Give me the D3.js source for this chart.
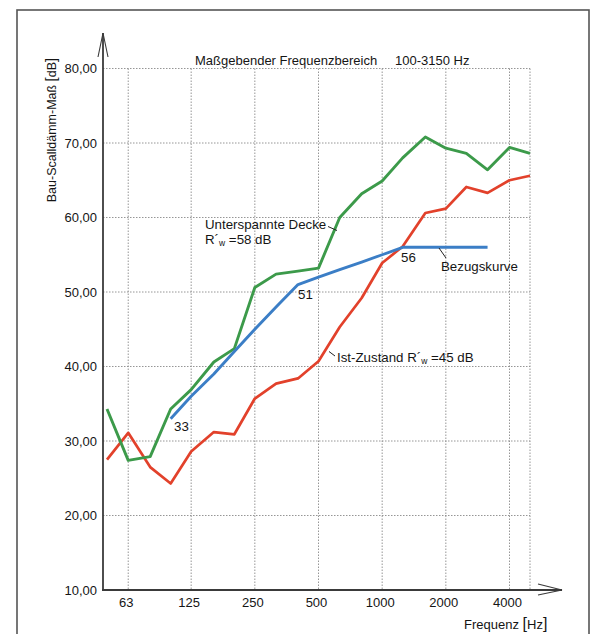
<!DOCTYPE html>
<html>
<head>
<meta charset="utf-8">
<script src="https://cdn.jsdelivr.net/npm/d3@7"></script>
<style>
  html, body { margin: 0; padding: 0; background: #fff; }
  svg { display: block; font-family: "Liberation Sans", Arial, sans-serif; }
</style>
</head>
<body>
<svg id="chart" width="592" height="634"></svg>
<script>
// ---- data ----
const freqs = [50, 63, 80, 100, 125, 160, 200, 250, 315, 400, 500, 630, 800, 1000, 1250, 1600, 2000, 2500, 3150, 4000, 5000];
const istZustand = [27.5, 31.1, 26.5, 24.3, 28.6, 31.2, 30.9, 35.7, 37.7, 38.4, 40.7, 45.3, 49.2, 53.9, 56.1, 60.6, 61.2, 64.1, 63.3, 65.0, 65.6];
const unterspannteDecke = [34.3, 27.4, 27.9, 34.3, 36.9, 40.6, 42.4, 50.6, 52.4, 52.8, 53.2, 60.0, 63.2, 64.9, 68.0, 70.8, 69.3, 68.6, 66.4, 69.4, 68.6];
const refFreqs = [100, 125, 160, 200, 250, 315, 400, 500, 630, 800, 1000, 1250, 1600, 2000, 2500, 3150];
const bezugskurve = [33, 36, 39, 42, 45, 48, 51, 52, 53, 54, 55, 56, 56, 56, 56, 56];
const xTickFreqs = [63, 125, 250, 500, 1000, 2000, 4000];
const xTickLabels = ["63", "125", "250", "500", "1000", "2000", "4000"];
const yTicks = [10, 20, 30, 40, 50, 60, 70, 80];
const yTickLabels = ["10,00", "20,00", "30,00", "40,00", "50,00", "60,00", "70,00", "80,00"];

// ---- layout ----
const svg = d3.select("#chart");
const axisX0 = 103, axisY0 = 590;
const x = d3.scaleLog().domain([50, 5000]).range([107, 530]);
const y = d3.scaleLinear().domain([10, 80]).range([590, 68.5]);
const axisColor = "#3a3a3a";
const textColor = "#151515";

// outer frame
svg.append("rect").attr("x", 17).attr("y", 10).attr("width", 572).attr("height", 640)
  .attr("fill", "none").attr("stroke", "#555").attr("stroke-width", 1.6);

// grid
const grid = svg.append("g").attr("stroke", "#8a8a8a").attr("stroke-width", 0.9)
  .attr("stroke-dasharray", "1.5,1.5").attr("fill", "none");
grid.selectAll("line.v").data(xTickFreqs.concat([5000])).join("line")
  .attr("x1", d => x(d)).attr("x2", d => x(d))
  .attr("y1", y(80)).attr("y2", axisY0);
grid.selectAll("line.h").data(yTicks.filter(d => d > 10)).join("line")
  .attr("x1", axisX0).attr("x2", x(5000))
  .attr("y1", d => y(d)).attr("y2", d => y(d));

// axes with arrows
const ax = svg.append("g").attr("stroke", axisColor).attr("fill", "none");
ax.append("line").attr("x1", axisX0).attr("x2", axisX0).attr("y1", axisY0 + 1).attr("y2", 33).attr("stroke-width", 1.8);
ax.append("polyline").attr("points", `${axisX0 - 5},57 ${axisX0},33 ${axisX0 + 5},57`).attr("stroke-width", 1.1);
ax.append("line").attr("x1", axisX0 - 1).attr("x2", 562).attr("y1", axisY0).attr("y2", axisY0).attr("stroke-width", 2);
ax.append("polyline").attr("points", `538,584 562,590 538,595`).attr("stroke-width", 1.1);

// y tick labels
svg.append("g").selectAll("text").data(yTicks).join("text")
  .attr("x", 97).attr("y", d => y(d) + 4.6)
  .attr("text-anchor", "end").attr("font-size", 13).attr("fill", textColor)
  .text((d, i) => yTickLabels[i]);

// x tick labels
svg.append("g").selectAll("text").data(xTickFreqs).join("text")
  .attr("x", d => x(d) - 2).attr("y", 607)
  .attr("text-anchor", "middle").attr("font-size", 13).attr("fill", textColor)
  .text((d, i) => xTickLabels[i]);

// axis titles
const yl = svg.append("text").attr("transform", "translate(56,130) rotate(-90)")
  .attr("text-anchor", "middle").attr("font-size", 12.5).attr("fill", textColor);
yl.append("tspan").text("Bau-Scalldämm-Maß ");
yl.append("tspan").attr("font-size", 15).text("[");
yl.append("tspan").text("dB");
yl.append("tspan").attr("font-size", 15).text("]");

const xl = svg.append("text").attr("x", 464).attr("y", 629)
  .attr("font-size", 13).attr("fill", textColor);
xl.append("tspan").text("Frequenz ");
xl.append("tspan").attr("font-size", 16).text("[");
xl.append("tspan").text("Hz");
xl.append("tspan").attr("font-size", 16).text("]");

// chart title
svg.append("text").attr("x", 195).attr("y", 65).attr("font-size", 13).attr("fill", textColor)
  .text("Maßgebender Frequenzbereich");
svg.append("text").attr("x", 395).attr("y", 65).attr("font-size", 13).attr("fill", textColor)
  .text("100-3150 Hz");

// lines
const line = d3.line().x(d => x(d[0])).y(d => y(d[1]));
svg.append("path").datum(freqs.map((f, i) => [f, istZustand[i]]))
  .attr("d", line).attr("fill", "none").attr("stroke", "#e2412b").attr("stroke-width", 2.7)
  .attr("stroke-linejoin", "round");
svg.append("path").datum(freqs.map((f, i) => [f, unterspannteDecke[i]]))
  .attr("d", line).attr("fill", "none").attr("stroke", "#3c9a4a").attr("stroke-width", 2.9)
  .attr("stroke-linejoin", "round");
svg.append("path").datum(refFreqs.map((f, i) => [f, bezugskurve[i]]))
  .attr("d", line).attr("fill", "none").attr("stroke", "#3b7ec6").attr("stroke-width", 2.9)
  .attr("stroke-linejoin", "round");

// annotations
const ann = svg.append("g").attr("font-size", 13.3).attr("fill", textColor);
function rw(sel, px, py, prefix, value) {
  const t = sel.append("text").attr("x", px).attr("y", py);
  t.append("tspan").text(prefix + "R´");
  t.append("tspan").attr("font-size", 8.5).attr("dy", 2).text("w");
  t.append("tspan").attr("dy", -2).text(" =" + value + " dB");
  return t;
}
ann.append("text").attr("x", 205).attr("y", 229).text("Unterspannte Decke");
rw(ann, 205, 244, "", 58);
rw(ann, 337, 362, "Ist-Zustand ", 45);
ann.append("text").attr("x", 441).attr("y", 271).text("Bezugskurve");
ann.append("text").attr("x", 174).attr("y", 431).text("33");
ann.append("text").attr("x", 298).attr("y", 299).text("51");
ann.append("text").attr("x", 401).attr("y", 262).text("56");

const leaders = svg.append("g").attr("stroke", "#222").attr("stroke-width", 1);
leaders.append("line").attr("x1", 328).attr("y1", 226.5).attr("x2", 337).attr("y2", 230.5);
leaders.append("line").attr("x1", 439).attr("y1", 248).attr("x2", 446).attr("y2", 258);
leaders.append("line").attr("x1", 329).attr("y1", 351.5).attr("x2", 335).attr("y2", 356);
</script>
</body>
</html>
